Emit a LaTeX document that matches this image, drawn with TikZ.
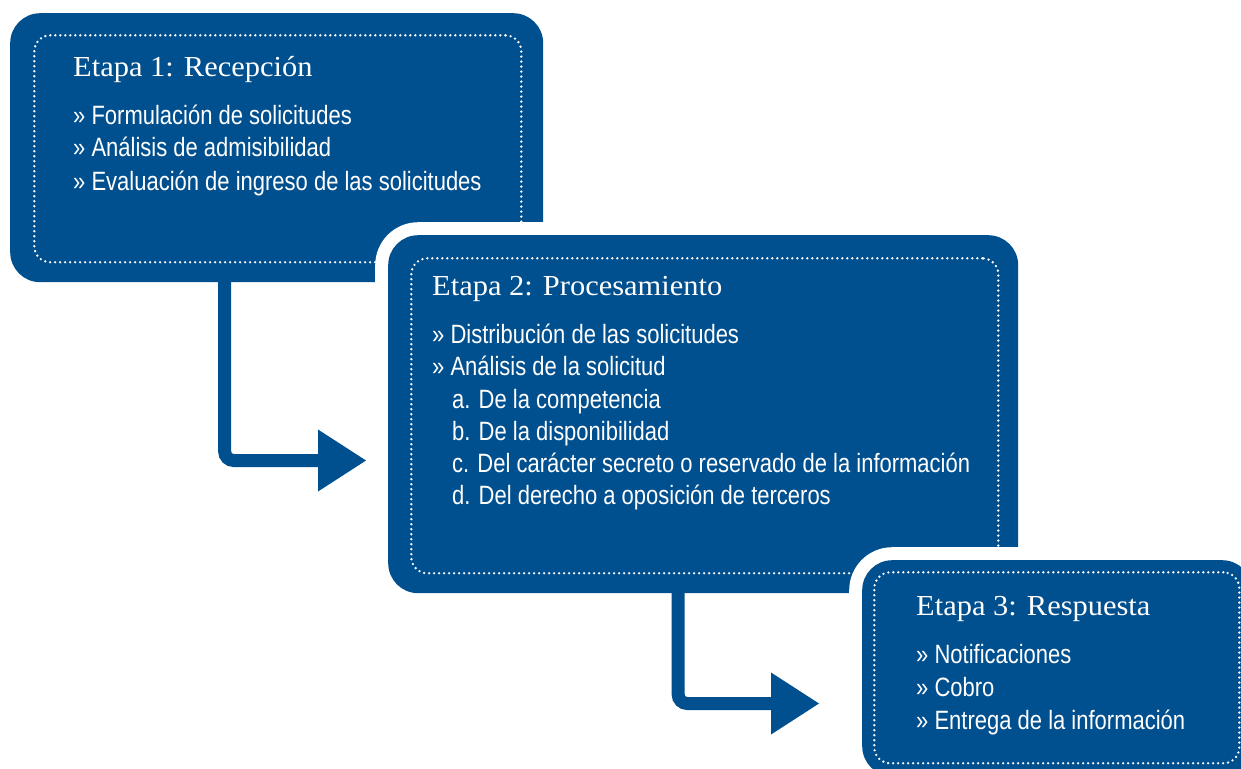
\documentclass[tikz,border=0pt]{standalone}
\usepackage{fontspec}
\setmainfont{Liberation Sans}
\newfontfamily\bodyfont[FakeStretch=0.83]{Liberation Sans}
\newfontfamily\titlefont[FakeStretch=1.05]{Liberation Serif}
\usetikzlibrary{arrows.meta,calc}
\definecolor{etblue}{HTML}{004F8E}
\begin{document}
\begin{tikzpicture}[x=1pt,y=-1pt,
 boxfill/.style={fill=etblue, rounded corners=30pt, anchor=north west, inner sep=0pt, draw=none},
 halo/.style={fill=white, rounded corners=43pt, anchor=north west, inner sep=0pt, draw=none},
 dots/.style={draw=white, line width=2.6pt, line cap=round, dash pattern=on 0pt off 5pt, rounded corners=16pt, anchor=north west, inner sep=0pt},
 ttl/.style={anchor=base west, text=white, font=\titlefont\fontsize{29}{34}\selectfont, inner sep=0pt},
 itm/.style={anchor=base west, text=white, font=\bodyfont\fontsize{26.5}{32}\selectfont, inner sep=0pt},
 conn/.style={draw=etblue, line width=13pt, rounded corners=9pt, -{Triangle[length=48pt,width=62pt,line width=0pt]}},
]
\clip (0,0) rectangle (1241,768);
\useasboundingbox (0,0) rectangle (1241,768);

% Box 1
\node[boxfill, minimum width=533pt, minimum height=269pt] (b1) at (10,13) {};
\node[dots, minimum width=487pt, minimum height=227pt] (d1) at (33,34) {};
\node[ttl] (t1) at (73,76) {Etapa 1: Recepción};
\node[itm] (i11) at (73,124) {» Formulación de solicitudes};
\node[itm] (i12) at (73,156) {» Análisis de admisibilidad};
\node[itm] (i13) at (73,190) {» Evaluación de ingreso de las solicitudes};

% Arrow 1
\coordinate (tip1) at (366,460.5);
\draw[conn] ([xshift=-52pt,yshift=4pt]b1.south) |- (tip1);

% Box 2
\node[halo, minimum width=656pt, minimum height=384pt] (h2) at (375,222) {};
\node[boxfill, minimum width=630pt, minimum height=358pt] (b2) at (388,235) {};
\node[dots, minimum width=587pt, minimum height=315pt] (d2) at (410,257) {};
\node[ttl] (t2) at (432,295) {Etapa 2: Procesamiento};
\node[itm] (i21) at (432,343) {» Distribución de las solicitudes};
\node[itm] (i22) at (432,375) {» Análisis de la solicitud};
\node[itm] (i23) at (452,408) {a. De la competencia};
\node[itm] (i24) at (452,440) {b. De la disponibilidad};
\node[itm] (i25) at (452,472) {c. Del carácter secreto o reservado de la información};
\node[itm] (i26) at (452,504) {d. Del derecho a oposición de terceros};

% Arrow 2
\coordinate (tip2) at (819,703.5);
\draw[conn] ([xshift=-25pt,yshift=4pt]b2.south) |- (tip2);

% Box 3
\node[halo, minimum width=416pt, minimum height=242pt] (h3) at (849,547) {};
\node[boxfill, minimum width=390pt, minimum height=216pt] (b3) at (862,560) {};
\node[dots, minimum width=365pt, minimum height=191pt] (d3) at (873,571) {};
\node[ttl] (t3) at (916,615) {Etapa 3: Respuesta};
\node[itm] (i31) at (916,663) {» Notificaciones};
\node[itm] (i32) at (916,696) {» Cobro};
\node[itm] (i33) at (916,729) {» Entrega de la información};
\end{tikzpicture}
\end{document}
